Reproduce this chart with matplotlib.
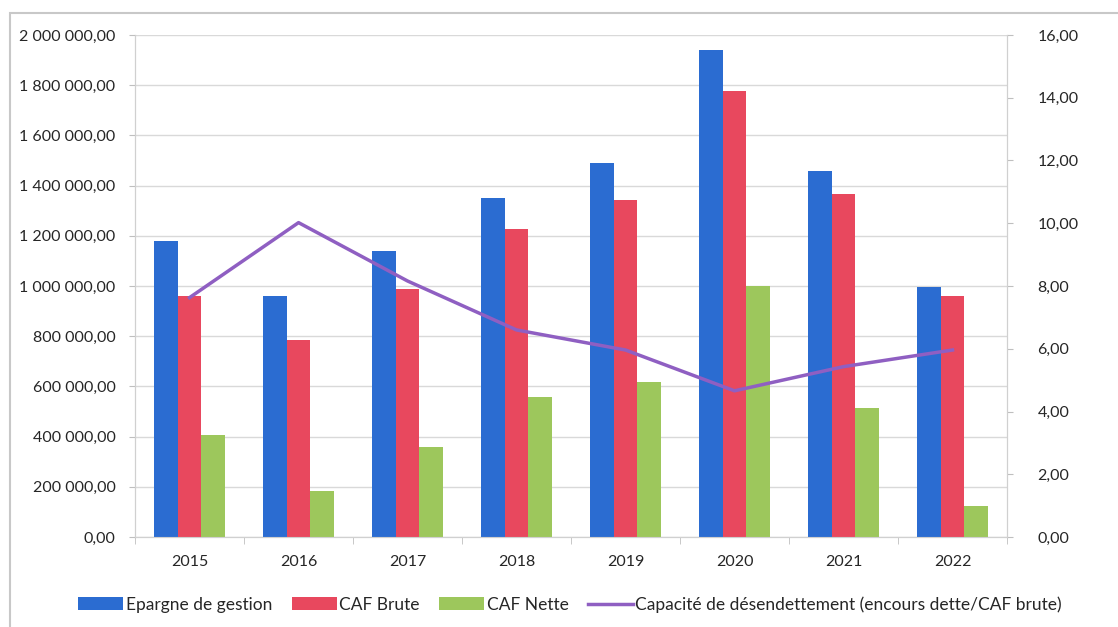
import numpy as np
import matplotlib.pyplot as plt
import matplotlib.ticker as ticker
from matplotlib.patches import Rectangle

# --- Data ---

years = ["2015", "2016", "2017", "2018", "2019", "2020", "2021", "2022"]
epargne_gestion = [1180000, 960000, 1139000, 1350000, 1490000, 1940000, 1458000, 995000]
caf_brute = [960000, 785000, 987000, 1226000, 1343000, 1778000, 1365000, 961000]
caf_nette = [406000, 185000, 360000, 559000, 616000, 1000000, 515000, 125000]
capacite_desendettement = [7.63, 10.02, 8.16, 6.6, 5.96, 4.66, 5.43, 5.96]

BLUE = "#2b6cd1"
RED = "#e8485e"
GREEN = "#9dc75c"
PURPLE = "#8f5fc2"
GRID = "#d9d9d9"
TEXT = "#262626"

plt.rcParams["font.family"] = ["Lato", "DejaVu Sans"]


def fr_format(x, pos):
    # French style: space for thousands, comma for decimals
    s = f"{x:,.2f}"
    return s.replace(",", " ").replace(".", ",")


fig = plt.figure(figsize=(11.18, 6.27), dpi=100)
ax = fig.add_axes([0.1208, 0.1435, 0.7799, 0.8007])
ax2 = ax.twinx()

x = np.arange(len(years))
w = 0.215
ax.bar(x - w, epargne_gestion, width=w, color=BLUE, label="Epargne de gestion", zorder=3)
ax.bar(x, caf_brute, width=w, color=RED, label="CAF Brute", zorder=3)
ax.bar(x + w, caf_nette, width=w, color=GREEN, label="CAF Nette", zorder=3)

ax2.plot(x, capacite_desendettement, color=PURPLE, linewidth=2.5,
         label="Capacité de désendettement (encours dette/CAF brute)")

ax.set_xlim(-0.5, len(years) - 0.5)
ax.set_ylim(0, 2000000)
ax2.set_ylim(0, 16)
ax.yaxis.set_major_locator(ticker.MultipleLocator(200000))
ax2.yaxis.set_major_locator(ticker.MultipleLocator(2))
ax.yaxis.set_major_formatter(ticker.FuncFormatter(fr_format))
ax2.yaxis.set_major_formatter(ticker.FuncFormatter(fr_format))

ax.set_xticks(x)
ax.set_xticklabels(years)
ax.set_xticks(np.arange(-0.5, len(years)), minor=True)
ax.tick_params(axis="x", which="major", length=0, pad=13, labelsize=11.5, labelcolor=TEXT)
ax.tick_params(axis="x", which="minor", length=5, color="#bfbfbf")
ax.tick_params(axis="y", length=4, color="#bfbfbf", pad=10, labelsize=11.5, labelcolor=TEXT)
ax2.tick_params(axis="y", length=4, color="#bfbfbf", pad=18, labelsize=11.5, labelcolor=TEXT)

ax.grid(axis="y", color=GRID, linewidth=1, zorder=0)
ax.set_axisbelow(True)
for a in (ax, ax2):
    a.spines["top"].set_visible(False)
    for side in ("left", "right", "bottom"):
        a.spines[side].set_color("#d0d0d0")

# Legend
h1, l1 = ax.get_legend_handles_labels()
h2, l2 = ax2.get_legend_handles_labels()
fig.legend(h1 + h2, l1 + l2, loc="center", bbox_to_anchor=(0.51, 0.036), ncol=4,
           frameon=False, fontsize=12.5, handlelength=2.6, handleheight=0.75,
           handletextpad=0.15, columnspacing=1.1, labelcolor=TEXT)

# Outer chart frame
fig.patches.append(Rectangle((10 / 1118, -0.1), 1.2, 0.979 + 0.1, transform=fig.transFigure,
                             fill=False, edgecolor="#c8c8c8", linewidth=1.5))

fig.savefig("out.png", dpi=100, facecolor="white")
